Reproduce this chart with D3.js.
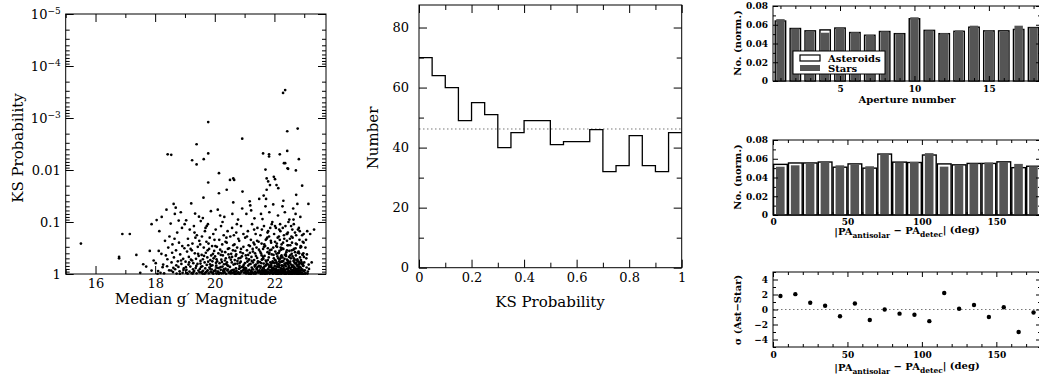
<!DOCTYPE html>
<html>
<head>
<meta charset="utf-8">
<script src="https://cdn.jsdelivr.net/npm/d3@7"></script>
<style>
body { margin: 0; background: #fff; }
svg { display: block; font-family: "DejaVu Serif", serif; }
.axis path.domain { display: none; }
.axis line { stroke: #000; }
.small text { font-weight: bold; }
</style>
</head>
<body>
<div id="chart-area"></div>
<script>

// ---- data ----

// left: median g' magnitude vs KS probability (one point per object)
let ksScatter = [
	// sparse points, low probability
	[22.36,2.9e-4],[22.29,3.3e-4],[19.78,1.2e-3],[22.78,1.6e-3],[22.43,1.8e-3],[20.92,2.5e-3],[19.39,3.2e-3],
	[22.43,4.3e-3],[19.78,4.8e-3],[18.42,5e-3],[18.54,5.1e-3],[21.62,4.8e-3],[21.82,5e-3],[21.82,5.5e-3],
	[22.18,5e-3],[19.63,6.2e-3],[19.24,6.5e-3],[19.39,7.8e-3],[22.32,7.4e-3],[22.36,7.4e-3],[22.82,6.2e-3],
	[22.44,9.3e-3],[22.46,9.5e-3],[22.72,.0102],[21.70,9.8e-3],[20.14,.0115],[21.98,.0135],[22.02,.015],
	[21.74,.0145],[20.62,.0145],[20.65,.0155],[20.51,.0155],[19.78,.0174],[21.79,.0166],[21.85,.0195],
	[22.07,.0195],[21.74,.024],[20.40,.024],[22.13,.0224],
	// bright end
	[15.51,.26],[16.79,.47],[16.79,.5],[16.9,.17],[17.15,.17],[17.37,.43],[17.6,.65],[17.82,.36],[17.88,.11],
	[17.88,.86],[17.7,.72],[17.95,.55],[17.5,.95],
	// 18.0 - 18.5
	[18.05,.092],[18.14,.15],[18.02,.62],[18.1,.88],[18.21,.41],[18.25,.74],[18.3,.97],[18.33,.23],[18.38,.058],
	[18.41,.52],[18.44,.31],[18.47,.85],[18.12,.36],[18.18,.95],[18.27,.66],[18.36,.44],[18.48,.19],[18.22,.08],
	[18.4,.71],[18.08,.99],
	// 18.5 - 19
	[18.52,.107],[18.55,.6],[18.58,.27],[18.62,.045],[18.66,.07],[18.69,.053],[18.6,.92],[18.63,.48],[18.67,.81],
	[18.7,.35],[18.72,.98],[18.74,.16],[18.76,.57],[18.78,.73],[18.8,.25],[18.82,.89],[18.84,.42],[18.86,.065],
	[18.88,.64],[18.9,.13],[18.92,.95],[18.94,.51],[18.96,.78],[18.98,.32],[18.54,.86],[18.57,.39],[18.65,.21],
	[18.71,.68],[18.79,.094],[18.83,.99],[18.87,.55],[18.91,.29],[18.95,.84],[18.61,.76],[18.99,.11],
	// 19 - 19.5
	[19.02,.58],[19.04,.093],[19.05,.83],[19.07,.37],[19.09,.99],[19.1,.21],[19.12,.66],[19.13,.47],[19.15,.9],
	[19.16,.14],[19.18,.72],[19.19,.33],[19.21,.044],[19.22,.96],[19.24,.55],[19.25,.26],[19.27,.81],[19.28,.62],
	[19.3,.12],[19.31,.88],[19.33,.4],[19.34,.069],[19.36,.77],[19.37,.51],[19.39,.97],[19.4,.18],[19.42,.64],
	[19.43,.3],[19.45,.86],[19.46,.45],[19.48,.23],[19.49,.93],[19.03,.74],[19.11,.28],[19.2,.53],[19.26,.98],
	[19.32,.16],[19.38,.7],[19.44,.41],[19.47,.079],[19.06,.95],[19.14,.6],[19.23,.35],[19.29,.91],[19.35,.2],
	// 19.5 - 20
	[19.5,.8],[19.51,.27],[19.52,.63],[19.53,.096],[19.55,.94],[19.56,.43],[19.57,.19],[19.58,.71],[19.6,.52],
	[19.61,.87],[19.62,.034],[19.63,.31],[19.65,.99],[19.66,.6],[19.67,.15],[19.68,.78],[19.7,.39],[19.71,.92],
	[19.72,.24],[19.73,.67],[19.75,.48],[19.76,.85],[19.77,.11],[19.78,.58],[19.8,.97],[19.81,.33],[19.82,.75],
	[19.83,.2],[19.85,.54],[19.86,.9],[19.87,.062],[19.88,.44],[19.9,.82],[19.91,.29],[19.92,.68],[19.93,.95],
	[19.95,.17],[19.96,.5],[19.97,.88],[19.98,.36],[19.54,.73],[19.59,.98],[19.64,.45],[19.69,.13],[19.74,.89],
	[19.79,.26],[19.84,.65],[19.89,.93],[19.94,.41],[19.99,.22],[19.52,.56],[19.6,.084],[19.68,.96],[19.76,.35],
	[19.84,.79],[19.92,.57],[19.57,.91],[19.73,.12],[19.87,.7],[19.95,.99],
	// 20 - 20.5
	[20.01,.46],[20.02,.85],[20.03,.14],[20.05,.69],[20.06,.98],[20.07,.3],[20.08,.57],[20.1,.058],[20.11,.9],
	[20.12,.4],[20.13,.77],[20.15,.22],[20.16,.62],[20.17,.95],[20.18,.34],[20.2,.83],[20.21,.12],[20.22,.53],
	[20.23,.97],[20.25,.27],[20.26,.72],[20.27,.44],[20.28,.88],[20.3,.18],[20.31,.65],[20.32,.08],[20.33,.93],
	[20.35,.38],[20.36,.79],[20.37,.5],[20.38,.99],[20.4,.25],[20.41,.6],[20.42,.86],[20.43,.15],[20.45,.7],
	[20.46,.42],[20.47,.94],[20.48,.32],[20.04,.61],[20.09,.91],[20.14,.028],[20.19,.74],[20.24,.37],[20.29,.96],
	[20.34,.55],[20.39,.2],[20.44,.82],[20.49,.48],[20.02,.29],[20.08,.76],[20.14,.99],[20.2,.43],[20.26,.1],
	[20.32,.87],[20.38,.64],[20.44,.33],[20.5,.92],[20.06,.52],[20.18,.075],[20.3,.81],[20.36,.24],[20.42,.68],
	[20.12,.97],[20.24,.59],
	// 20.5 - 21
	[20.51,.73],[20.52,.19],[20.53,.89],[20.55,.41],[20.56,.96],[20.57,.6],[20.58,.13],[20.6,.84],[20.61,.35],
	[20.62,.042],[20.63,.66],[20.65,.92],[20.66,.27],[20.67,.54],[20.68,.99],[20.7,.45],[20.71,.78],[20.72,.16],
	[20.73,.87],[20.75,.31],[20.76,.63],[20.77,.95],[20.78,.09],[20.8,.5],[20.81,.8],[20.82,.23],[20.83,.7],
	[20.85,.97],[20.86,.38],[20.87,.58],[20.88,.12],[20.9,.91],[20.91,.46],[20.92,.74],[20.93,.026],[20.95,.85],
	[20.96,.3],[20.97,.67],[20.98,.94],[20.54,.53],[20.59,.07],[20.64,.83],[20.69,.36],[20.74,.98],[20.79,.21],
	[20.84,.61],[20.89,.88],[20.94,.4],[20.99,.76],[20.52,.97],[20.58,.47],[20.64,.18],[20.7,.9],[20.76,.56],
	[20.82,.99],[20.88,.33],[20.94,.72],[20.56,.86],[20.62,.28],[20.68,.64],[20.74,.11],[20.8,.93],[20.86,.49],
	[20.92,.055],[20.98,.81],[20.6,.95],[20.72,.42],[20.84,.77],[20.96,.17],[20.66,.99],
	// 21 - 21.5
	[21.01,.62],[21.02,.2],[21.03,.91],[21.04,.44],[21.05,.78],[21.06,.07],[21.07,.97],[21.08,.35],[21.09,.58],
	[21.1,.86],[21.11,.15],[21.12,.69],[21.13,.95],[21.14,.28],[21.15,.52],[21.16,.83],[21.17,.04],[21.18,.39],
	[21.19,.99],[21.2,.64],[21.21,.22],[21.22,.88],[21.23,.47],[21.24,.75],[21.25,.11],[21.26,.93],[21.27,.33],
	[21.28,.6],[21.29,.82],[21.3,.25],[21.31,.98],[21.32,.54],[21.33,.085],[21.34,.72],[21.35,.4],[21.36,.9],
	[21.37,.17],[21.38,.66],[21.39,.96],[21.4,.31],[21.41,.8],[21.42,.49],[21.43,.13],[21.44,.87],[21.45,.57],
	[21.46,.94],[21.47,.24],[21.48,.7],[21.49,.036],[21.5,.85],[21.02,.76],[21.04,.97],[21.06,.5],[21.08,.19],
	[21.1,.89],[21.12,.43],[21.14,.99],[21.16,.65],[21.18,.29],[21.2,.92],[21.22,.06],[21.24,.56],[21.26,.81],
	[21.28,.37],[21.3,.95],[21.32,.14],[21.34,.68],[21.36,.98],[21.38,.45],[21.4,.79],[21.42,.23],[21.44,.61],
	[21.46,.9],[21.48,.34],[21.03,.84],[21.13,.55],[21.23,.99],[21.33,.27],[21.43,.74],[21.19,.048],
	// 21.5 - 22
	[21.51,.59],[21.52,.93],[21.53,.18],[21.54,.71],[21.55,.4],[21.56,.97],[21.57,.26],[21.58,.84],[21.59,.52],
	[21.6,.088],[21.61,.77],[21.62,.33],[21.63,.95],[21.64,.63],[21.65,.12],[21.66,.89],[21.67,.45],[21.68,.99],
	[21.69,.29],[21.7,.7],[21.71,.55],[21.72,.036],[21.73,.86],[21.74,.21],[21.75,.64],[21.76,.96],[21.77,.38],
	[21.78,.81],[21.79,.15],[21.8,.92],[21.81,.48],[21.82,.74],[21.83,.065],[21.84,.98],[21.85,.35],[21.86,.6],
	[21.87,.87],[21.88,.23],[21.89,.68],[21.9,.94],[21.91,.42],[21.92,.79],[21.93,.1],[21.94,.57],[21.95,.99],
	[21.96,.31],[21.97,.83],[21.98,.5],[21.99,.17],[21.5,.9],[21.52,.37],[21.54,.99],[21.56,.62],[21.58,.14],
	[21.6,.85],[21.62,.47],[21.64,.78],[21.66,.27],[21.68,.96],[21.7,.05],[21.72,.67],[21.74,.91],[21.76,.2],
	[21.78,.54],[21.8,.82],[21.82,.41],[21.84,.97],[21.86,.13],[21.88,.73],[21.9,.34],[21.92,.88],[21.94,.6],
	[21.96,.046],[21.98,.93],[21.53,.76],[21.57,.44],[21.61,.99],[21.65,.3],[21.69,.87],[21.73,.58],[21.77,.16],
	[21.81,.95],[21.85,.69],[21.89,.25],[21.93,.8],[21.97,.43],[21.55,.07],[21.59,.92],[21.63,.51],[21.67,.84],
	[21.71,.22],[21.75,.98],[21.79,.66],[21.83,.39],[21.87,.95],[21.91,.11],[21.95,.75],[21.99,.61],[21.62,.89],
	[21.7,.97],[21.78,.32],[21.86,.85],[21.94,.99],[21.58,.53],[21.66,.72],[21.74,.94],[21.82,.19],[21.9,.63],
	[21.98,.8],[21.64,.031],
	// 22 - 22.5
	[22.01,.7],[22.02,.24],[22.03,.92],[22.04,.55],[22.05,.13],[22.06,.83],[22.07,.41],[22.08,.98],[22.09,.3],
	[22.1,.66],[22.11,.88],[22.12,.075],[22.13,.5],[22.14,.96],[22.15,.19],[22.16,.74],[22.17,.36],[22.18,.9],
	[22.19,.6],[22.2,.15],[22.21,.82],[22.22,.46],[22.23,.99],[22.24,.27],[22.25,.68],[22.26,.94],[22.27,.05],
	[22.28,.57],[22.29,.85],[22.3,.33],[22.31,.77],[22.32,.97],[22.33,.21],[22.34,.63],[22.35,.43],[22.36,.89],
	[22.37,.12],[22.38,.71],[22.39,.95],[22.4,.38],[22.41,.8],[22.42,.53],[22.43,.17],[22.44,.93],[22.45,.65],
	[22.46,.28],[22.47,.86],[22.48,.99],[22.49,.47],[22.5,.09],[22.01,.96],[22.03,.37],[22.05,.79],[22.07,.6],
	[22.09,.91],[22.11,.2],[22.13,.73],[22.15,.99],[22.17,.52],[22.19,.11],[22.21,.87],[22.23,.34],[22.25,.58],
	[22.27,.93],[22.29,.25],[22.31,.69],[22.33,.97],[22.35,.065],[22.37,.83],[22.39,.45],[22.41,.98],[22.43,.62],
	[22.45,.16],[22.47,.76],[22.49,.9],[22.02,.54],[22.04,.85],[22.06,.29],[22.08,.72],[22.1,.99],[22.12,.4],
	[22.14,.64],[22.16,.14],[22.18,.95],[22.2,.5],[22.22,.78],[22.24,.88],[22.26,.32],[22.28,.97],[22.3,.56],
	[22.32,.18],[22.34,.9],[22.36,.67],[22.38,.42],[22.4,.96],[22.42,.23],[22.44,.81],[22.46,.59],[22.48,.99],
	[22.02,.12],[22.06,.61],[22.1,.46],[22.14,.84],[22.18,.22],[22.22,.94],[22.26,.7],[22.3,.039],[22.34,.51],
	[22.38,.97],[22.42,.35],[22.46,.92],[22.5,.75],[22.04,.99],[22.08,.26],[22.12,.89],[22.16,.57],[22.2,.97],
	[22.24,.44],[22.28,.13],[22.32,.82],[22.36,.99],[22.4,.61],[22.44,.28],[22.48,.7],[22.05,.93],[22.15,.39],
	[22.25,.8],[22.35,.96],[22.45,.55],[22.11,.98],[22.21,.31],[22.31,.9],[22.41,.17],[22.07,.83],[22.17,.68],
	[22.27,.48],[22.37,.93],[22.47,.1],[22.23,.58],[22.33,.86],
	// 22.5 - 23
	[22.51,.62],[22.52,.95],[22.53,.28],[22.54,.77],[22.55,.5],[22.56,.12],[22.57,.89],[22.58,.41],[22.59,.98],
	[22.6,.69],[22.61,.2],[22.62,.84],[22.63,.055],[22.64,.56],[22.65,.93],[22.66,.33],[22.67,.74],[22.68,.99],
	[22.69,.16],[22.7,.63],[22.71,.87],[22.72,.44],[22.73,.03],[22.74,.8],[22.75,.27],[22.76,.96],[22.77,.52],
	[22.78,.71],[22.79,.14],[22.8,.91],[22.81,.37],[22.82,.66],[22.83,.99],[22.84,.22],[22.85,.85],[22.86,.48],
	[22.87,.08],[22.88,.75],[22.89,.94],[22.9,.3],[22.91,.59],[22.92,.97],[22.93,.18],[22.94,.82],[22.95,.43],
	[22.96,.68],[22.97,.99],[22.98,.25],[22.99,.88],[22.5,.36],[22.51,.9],[22.53,.58],[22.55,.99],[22.57,.19],
	[22.59,.73],[22.61,.46],[22.63,.95],[22.65,.11],[22.67,.6],[22.69,.86],[22.71,.32],[22.73,.97],[22.75,.67],
	[22.77,.045],[22.79,.79],[22.81,.98],[22.83,.4],[22.85,.15],[22.87,.92],[22.89,.54],[22.91,.81],[22.93,.99],
	[22.95,.24],[22.97,.7],[22.99,.47],[22.52,.21],[22.54,.97],[22.56,.66],[22.58,.35],[22.6,.89],[22.62,.99],
	[22.64,.09],[22.66,.78],[22.68,.53],[22.7,.96],[22.72,.26],[22.74,.61],[22.76,.87],[22.78,.39],[22.8,.98],
	[22.82,.13],[22.84,.72],[22.86,.94],[22.88,.29],[22.9,.83],[22.92,.64],[22.94,.42],[22.96,.99],[22.98,.17],
	[22.55,.82],[22.59,.25],[22.63,.69],[22.67,.93],[22.71,.07],[22.75,.55],[22.79,.99],[22.83,.76],[22.87,.31],
	[22.91,.96],[22.95,.64],[22.53,.44],[22.61,.93],[22.69,.38],[22.77,.9],[22.85,.62],[22.93,.02],[22.57,.97],
	[22.65,.5],[22.73,.18],[22.81,.85],[22.89,.99],[22.97,.4],[22.6,.14],[22.7,.79],[22.8,.57],[22.9,.97],
	[22.64,.34],[22.74,.98],[22.84,.6],[22.94,.86],
	// faint end
	[23.0,.6],[23.02,.85],[23.04,.31],[23.05,.97],[23.07,.5],[23.08,.75],[23.1,.15],[23.12,.9],[23.14,.045],
	[23.15,.66],[23.03,.99],[23.06,.22],[23.09,.42],[23.11,.98],[23.16,.8],[23.33,.14],[23.2,.17],[23.25,.6]
];

// middle: histogram of KS probability, bins of 0.05
let ksBinStarts = [0,0.05,0.1,0.15,0.2,0.25,0.3,0.35,0.4,0.45,0.5,0.55,0.6,0.65,0.7,0.75,0.8,0.85,0.9,0.95];
let ksCounts = [70,64,60,49,55,51,40,45,49,49,41,42,42,46,32,34,44,34,32,45];
let ksMean = 46.2;

// right top: aperture number
let apertureNums = [1,2,3,4,5,6,7,8,9,10,11,12,13,14,15,16,17,18];
let apAsteroids = [0.064,0.056,0.0535,0.0545,0.0565,0.0517,0.0488,0.0528,0.0505,0.0664,0.054,0.0505,0.053,0.0574,0.0535,0.0535,0.055,0.057];
let apStars     = [0.066,0.056,0.0535,0.0515,0.0565,0.052,0.049,0.053,0.0505,0.068,0.054,0.051,0.054,0.059,0.054,0.053,0.059,0.057];

// right middle: |PA antisolar - PA detec|, 10 deg bins
let paBinStarts = [0,10,20,30,40,50,60,70,80,90,100,110,120,130,140,150,160,170];
let paAsteroids = [0.054,0.0555,0.0555,0.0565,0.051,0.0545,0.050,0.065,0.0564,0.056,0.064,0.0545,0.0535,0.055,0.055,0.0567,0.0505,0.052];
let paStars     = [0.0515,0.053,0.0555,0.057,0.053,0.054,0.052,0.065,0.056,0.0567,0.066,0.0516,0.0535,0.055,0.056,0.0567,0.0545,0.052];

// right bottom: significance of the difference
let paCenters = [5,15,25,35,45,55,65,75,85,95,105,115,125,135,145,155,165,175];
let paSigma = [1.8,2.05,0.9,0.5,-0.9,0.8,-1.4,0.0,-0.55,-0.7,-1.55,2.2,0.1,0.6,-1.0,0.3,-3.0,-0.4];

let legendItems = ["Asteroids", "Stars"];

// ---- drawing ----

let svg = d3.select("#chart-area").append("svg")
	.attr("width", 1039)
	.attr("height", 381);

let starGray = "#555";

// ticks on all four sides, pointing inwards
function frameAxes(g, x, y, o) {
	let [x0, x1] = x.range();
	let [y0, y1] = y.range(); // y0 = bottom

	g.append("g").attr("class", "axis").attr("transform", "translate(0," + y0 + ")")
		.call(d3.axisBottom(x).tickValues(o.xMajor).tickSize(-o.major).tickPadding(o.xPad).tickFormat(o.xFmt));
	g.append("g").attr("class", "axis").attr("transform", "translate(0," + y0 + ")")
		.call(d3.axisBottom(x).tickValues(o.xMinor).tickSize(-o.minor).tickFormat(""));
	g.append("g").attr("class", "axis").attr("transform", "translate(0," + y1 + ")")
		.call(d3.axisTop(x).tickValues(o.xMajor).tickSize(-o.major).tickFormat(""));
	g.append("g").attr("class", "axis").attr("transform", "translate(0," + y1 + ")")
		.call(d3.axisTop(x).tickValues(o.xMinor).tickSize(-o.minor).tickFormat(""));

	let yl = g.append("g").attr("class", "axis y-labels").attr("transform", "translate(" + x0 + ",0)")
		.call(d3.axisLeft(y).tickValues(o.yMajor).tickSize(-o.major).tickPadding(o.yPad).tickFormat(o.yFmt));
	g.append("g").attr("class", "axis").attr("transform", "translate(" + x0 + ",0)")
		.call(d3.axisLeft(y).tickValues(o.yMinor).tickSize(-o.minor).tickFormat(""));
	g.append("g").attr("class", "axis").attr("transform", "translate(" + x1 + ",0)")
		.call(d3.axisRight(y).tickValues(o.yMajor).tickSize(-o.major).tickFormat(""));
	g.append("g").attr("class", "axis").attr("transform", "translate(" + x1 + ",0)")
		.call(d3.axisRight(y).tickValues(o.yMinor).tickSize(-o.minor).tickFormat(""));

	g.selectAll(".axis text")
		.attr("font-family", "DejaVu Serif, serif")
		.attr("font-size", o.fontSize)
		.attr("fill", "#000");

	g.append("rect")
		.attr("x", x0).attr("y", y1)
		.attr("width", x1 - x0).attr("height", y0 - y1)
		.attr("fill", "none").attr("stroke", "#000").attr("stroke-width", 1);
	return yl;
}

// ===== left: scatter =====
let gL = svg.append("g");
let xMag = d3.scaleLinear().domain([15, 23.73]).range([65.7, 326]);
let yKS = d3.scaleLog().domain([1, 1e-5]).range([274, 14]);

gL.selectAll("circle.pt")
	.data(ksScatter)
	.enter().append("circle")
	.attr("class", "pt")
	.attr("cx", d => xMag(d[0]))
	.attr("cy", d => yKS(d[1]))
	.attr("r", 1.35)
	.attr("fill", "#000");

let ksMajor = [1, 0.1, 0.01, 1e-3, 1e-4, 1e-5];
let ksMinor = yKS.ticks().filter(v => !ksMajor.some(m => Math.abs(m - v) / m < 1e-6));

let ylL = frameAxes(gL, xMag, yKS, {
	xMajor: [16, 18, 20, 22], xMinor: [15, 17, 19, 21, 23],
	yMajor: ksMajor, yMinor: ksMinor,
	major: 8, minor: 4, xPad: 5, yPad: 5, fontSize: 13,
	xFmt: d3.format("d"),
	yFmt: d => d >= 0.005 ? String(+d.toPrecision(1)) : "10"
});
ylL.selectAll(".tick text").each(function(d) {
	if (d < 0.005) {
		d3.select(this).append("tspan")
			.attr("dy", "-0.5em").attr("font-size", "9")
			.text("\u2212" + Math.round(-Math.log10(d)));
	}
});

gL.append("text")
	.attr("transform", "translate(23,148) rotate(-90)")
	.attr("text-anchor", "middle")
	.attr("font-size", 15)
	.text("KS Probability");
gL.append("text")
	.attr("x", 196).attr("y", 304)
	.attr("text-anchor", "middle")
	.attr("font-size", 15)
	.text("Median g\u2032 Magnitude");

// ===== middle: histogram =====
let gM = svg.append("g");
let xP = d3.scaleLinear().domain([0, 1]).range([419, 681.7]);
let yN = d3.scaleLinear().domain([0, 87.5]).range([267.7, 5]);

gM.append("line")
	.attr("x1", xP(0)).attr("x2", xP(1))
	.attr("y1", yN(ksMean)).attr("y2", yN(ksMean))
	.attr("stroke", "#777").attr("stroke-width", 1)
	.attr("stroke-dasharray", "1.5,2.5");

let stepData = ksBinStarts.map((b, i) => [b, ksCounts[i]]);
stepData.push([1, ksCounts[ksCounts.length - 1]]);
gM.append("path")
	.datum(stepData)
	.attr("fill", "none")
	.attr("stroke", "#000")
	.attr("stroke-width", 1.3)
	.attr("d", d3.line().x(d => xP(d[0])).y(d => yN(d[1])).curve(d3.curveStepAfter));

frameAxes(gM, xP, yN, {
	xMajor: [0, 0.2, 0.4, 0.6, 0.8, 1], xMinor: [0.1, 0.3, 0.5, 0.7, 0.9],
	yMajor: [0, 20, 40, 60, 80], yMinor: [10, 30, 50, 70],
	major: 8, minor: 5, xPad: 5, yPad: 10, fontSize: 13,
	xFmt: d => String(d), yFmt: d3.format("d")
});

gM.append("text")
	.attr("transform", "translate(378,138) rotate(-90)")
	.attr("text-anchor", "middle")
	.attr("font-size", 15)
	.text("Number");
gM.append("text")
	.attr("x", 550).attr("y", 307)
	.attr("text-anchor", "middle")
	.attr("font-size", 15)
	.text("KS Probability");

// ===== right panels =====
let normFmt = d => d === 0 ? "0" : d.toFixed(2);

function paLabel(g, y) {
	let t = g.append("text")
		.attr("x", 907).attr("y", y)
		.attr("text-anchor", "middle")
		.attr("font-size", 10).attr("font-weight", "bold");
	t.append("tspan").text("|PA");
	t.append("tspan").attr("dy", "0.35em").attr("font-size", 7.5).text("antisolar");
	t.append("tspan").attr("dy", "-0.35em").text(" \u2212 PA");
	t.append("tspan").attr("dy", "0.35em").attr("font-size", 7.5).text("detec");
	t.append("tspan").attr("dy", "-0.35em").text("| (deg)");
}

function yLabel(g, cy, text) {
	g.append("text")
		.attr("transform", "translate(741," + cy + ") rotate(-90)")
		.attr("text-anchor", "middle")
		.attr("font-size", 10).attr("font-weight", "bold")
		.text(text);
}

// --- aperture number ---
let gA = svg.append("g").attr("class", "small");
let xAp = d3.scaleLinear().domain([0.5, 18.5]).range([773, 1041]);
let xApBand = d3.scaleBand().domain(apertureNums).range([773, 1041]).paddingInner(0.3).paddingOuter(0.15);
let yAp = d3.scaleLinear().domain([0, 0.08]).range([81, 6]);

gA.selectAll("rect.ast")
	.data(apertureNums)
	.enter().append("rect")
	.attr("class", "ast")
	.attr("x", d => xApBand(d))
	.attr("width", xApBand.bandwidth())
	.attr("y", (d, i) => yAp(apAsteroids[i]))
	.attr("height", (d, i) => yAp(0) - yAp(apAsteroids[i]))
	.attr("fill", "#fff").attr("stroke", "#000").attr("stroke-width", 1.4);
gA.selectAll("rect.star")
	.data(apertureNums)
	.enter().append("rect")
	.attr("class", "star")
	.attr("x", d => xApBand(d) + 1)
	.attr("width", xApBand.bandwidth() - 2)
	.attr("y", (d, i) => yAp(apStars[i]))
	.attr("height", (d, i) => yAp(0) - yAp(apStars[i]))
	.attr("fill", starGray);

// legend
let lg = gA.append("g").attr("transform", "translate(793,51)");
lg.append("rect").attr("width", 92).attr("height", 23)
	.attr("fill", "#fff").attr("stroke", "#000").attr("stroke-width", 1);
lg.selectAll("rect.sw")
	.data(legendItems)
	.enter().append("rect")
	.attr("class", "sw")
	.attr("x", 7).attr("y", (d, i) => 4 + i * 10)
	.attr("width", 20).attr("height", 6)
	.attr("fill", (d, i) => i === 0 ? "#fff" : starGray)
	.attr("stroke", (d, i) => i === 0 ? "#000" : "none")
	.attr("stroke-width", 1.2);
lg.selectAll("text")
	.data(legendItems)
	.enter().append("text")
	.attr("x", 35).attr("y", (d, i) => 10.5 + i * 10)
	.attr("font-size", 10).attr("font-weight", "bold")
	.text(d => d);

frameAxes(gA, xAp, yAp, {
	xMajor: [5, 10, 15], xMinor: [1,2,3,4,6,7,8,9,11,12,13,14,16,17,18],
	yMajor: [0, 0.02, 0.04, 0.06, 0.08], yMinor: [0.01, 0.03, 0.05, 0.07],
	major: 5, minor: 3, xPad: 5, yPad: 5, fontSize: 9,
	xFmt: d3.format("d"), yFmt: normFmt
});
// legend sits above the frame ticks
lg.raise();
gA.append("text")
	.attr("x", 907).attr("y", 103)
	.attr("text-anchor", "middle")
	.attr("font-size", 10).attr("font-weight", "bold")
	.text("Aperture number");
yLabel(gA, 43, "No. (norm.)");

// --- PA histogram ---
let gP = svg.append("g").attr("class", "small");
let xPA = d3.scaleLinear().domain([0, 180]).range([773, 1041]);
let yPA = d3.scaleLinear().domain([0, 0.08]).range([215, 140]);
let binW = 10;

gP.selectAll("rect.ast")
	.data(paBinStarts)
	.enter().append("rect")
	.attr("class", "ast")
	.attr("x", d => xPA(d + 0.4))
	.attr("width", xPA(binW - 0.8) - xPA(0))
	.attr("y", (d, i) => yPA(paAsteroids[i]))
	.attr("height", (d, i) => yPA(0) - yPA(paAsteroids[i]))
	.attr("fill", "#fff").attr("stroke", "#000").attr("stroke-width", 1.4);
gP.selectAll("rect.star")
	.data(paBinStarts)
	.enter().append("rect")
	.attr("class", "star")
	.attr("x", d => xPA(d + 2))
	.attr("width", xPA(5.8) - xPA(0))
	.attr("y", (d, i) => yPA(paStars[i]))
	.attr("height", (d, i) => yPA(0) - yPA(paStars[i]))
	.attr("fill", starGray);

let paMinor = [10,20,30,40,60,70,80,90,110,120,130,140,160,170];
frameAxes(gP, xPA, yPA, {
	xMajor: [0, 50, 100, 150], xMinor: paMinor,
	yMajor: [0, 0.02, 0.04, 0.06, 0.08], yMinor: [0.01, 0.03, 0.05, 0.07],
	major: 5, minor: 3, xPad: 4, yPad: 5, fontSize: 9,
	xFmt: d3.format("d"), yFmt: normFmt
});
paLabel(gP, 235);
yLabel(gP, 177, "No. (norm.)");

// --- sigma ---
let gS = svg.append("g").attr("class", "small");
let ySig = d3.scaleLinear().domain([-5, 5]).range([347, 272]);

gS.append("line")
	.attr("x1", xPA(0)).attr("x2", xPA(180))
	.attr("y1", ySig(0)).attr("y2", ySig(0))
	.attr("stroke", "#777").attr("stroke-width", 1)
	.attr("stroke-dasharray", "1.5,2.5");

gS.selectAll("circle")
	.data(paCenters)
	.enter().append("circle")
	.attr("cx", d => xPA(d))
	.attr("cy", (d, i) => ySig(paSigma[i]))
	.attr("r", 2.2)
	.attr("fill", "#000");

frameAxes(gS, xPA, ySig, {
	xMajor: [0, 50, 100, 150], xMinor: paMinor,
	yMajor: [-4, -2, 0, 2, 4], yMinor: [-5, -3, -1, 1, 3, 5],
	major: 5, minor: 3, xPad: 5, yPad: 5, fontSize: 9,
	xFmt: d3.format("d"), yFmt: d => d < 0 ? "\u2212" + (-d) : String(d)
});
paLabel(gS, 371);
yLabel(gS, 310, "\u03c3 (Ast\u2212Star)");

</script>
</body>
</html>
